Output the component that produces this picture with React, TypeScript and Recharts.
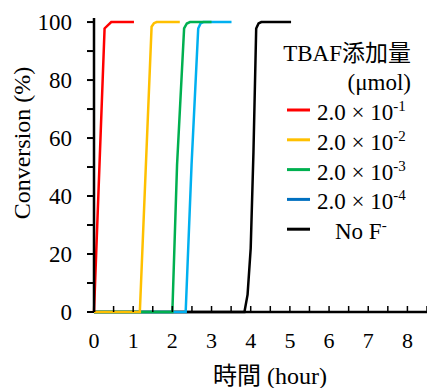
import { LineChart, Line, XAxis, YAxis } from 'recharts';

const FONT = '"Liberation Serif", "Times New Roman", "Noto Sans CJK JP", serif';

// 軸の目盛り
const xTicks = [0, 0.5, 1, 1.5, 2, 2.5, 3, 3.5, 4, 4.5, 5, 5.5, 6, 6.5, 7, 7.5, 8, 8.5];
const yTicks = [0, 10, 20, 30, 40, 50, 60, 70, 80, 90, 100];
const xMax = 8.5;
const yMax = 101.4;

// 各系列 (時間, 転化率)
const redT = [0, 0.27, 0.44, 1.02];
const redV = [0, 97.8, 100, 100];
const yellowT = [0, 1.17, 1.47, 1.53, 1.6, 2.19];
const yellowV = [0, 0, 98.4, 99.6, 100, 100];
const greenT = [0, 2.0, 2.12, 2.3, 2.37, 2.45, 3.0];
const greenV = [0, 0, 50.7, 97.8, 99.5, 100, 100];
const blueT = [0, 2.34, 2.49, 2.66, 2.72, 2.79, 3.51];
const blueV = [0, 0, 50.7, 97.8, 99.5, 100, 100];
const blackT = [0, 3.84, 3.92, 4.0, 4.07, 4.14, 4.2, 4.27, 5.03];
const blackV = [0, 0, 6, 22, 55, 97.8, 99.5, 100, 100];

// 凡例
const legendBase = ['2.0 × 10', '2.0 × 10', '2.0 × 10', '2.0 × 10', 'No F'];
const legendSup = ['-1', '-2', '-3', '-4', '-'];
const legendColors = ['#FF0000', '#FFC000', '#00B050', '#0070C0', '#000000'];

const toRows = (t: number[], v: number[]) => t.map((x, i) => ({ t: x, v: v[i] }));

// x軸の線 (系列の下に描くため Line で描く)
const baseline = [
  { t: 0, v: 0 },
  { t: xMax, v: 0 },
];

// 描画順: 黒 → 青 → 緑 → 黄 → 赤
const series = [
  { key: 'black', data: toRows(blackT, blackV), color: '#000000' },
  { key: 'blue', data: toRows(blueT, blueV), color: '#00B0F0' },
  { key: 'green', data: toRows(greenT, greenV), color: '#00B050' },
  { key: 'yellow', data: toRows(yellowT, yellowV), color: '#FFC000' },
  { key: 'red', data: toRows(redT, redV), color: '#FF0000' },
];

const XTick = (props: any) => {
  const { x, y, payload } = props;
  const v = payload.value;
  return (
    <g>
      {v > 0 && <line x1={x} x2={x} y1={y} y2={y - 6} stroke="#000" strokeWidth={1.5} />}
      {Number.isInteger(v) && (
        <text x={x} y={y + 36} textAnchor="middle" fontSize={22} fontFamily={FONT} fill="#000">
          {v}
        </text>
      )}
    </g>
  );
};

export default function App() {
  return (
    <div style={{ position: 'absolute', left: 0, top: 0, width: 427, height: 388, overflow: 'hidden', background: '#fff' }}>
      <LineChart width={427} height={388} margin={{ top: 18, right: 0, left: 0, bottom: 0 }}>
        <XAxis
          xAxisId="top"
          orientation="top"
          type="number"
          domain={[0, xMax]}
          height={0}
          tick={false}
          tickLine={false}
          axisLine={{ stroke: '#000', strokeWidth: 2.5 }}
        />
        <XAxis
          dataKey="t"
          type="number"
          domain={[0, xMax]}
          ticks={xTicks}
          interval={0}
          height={76}
          tickSize={0}
          tickMargin={0}
          tickLine={false}
          tick={<XTick />}
          axisLine={false}
        />
        <YAxis
          type="number"
          domain={[0, yMax]}
          ticks={yTicks}
          interval={0}
          width={94}
          tickSize={7}
          tickMargin={15}
          tickFormatter={(v: number) => (v % 20 === 0 ? String(v) : '')}
          tick={{ fill: '#000', fontSize: 23, fontFamily: FONT }}
          tickLine={{ stroke: '#000', strokeWidth: 2 }}
          axisLine={{ stroke: '#000', strokeWidth: 2.5 }}
        />
        <Line
          data={baseline}
          dataKey="v"
          type="linear"
          stroke="#000"
          strokeWidth={2.5}
          dot={false}
          activeDot={false}
          isAnimationActive={false}
        />
        {series.map((s) => (
          <Line
            key={s.key}
            data={s.data}
            dataKey="v"
            type="linear"
            stroke={s.color}
            strokeWidth={2.5}
            dot={false}
            activeDot={false}
            isAnimationActive={false}
          />
        ))}
      </LineChart>
      <svg width={427} height={388} style={{ position: 'absolute', left: 0, top: 0, pointerEvents: 'none' }}>
        <text
          x={22}
          y={143}
          transform="rotate(-90 22 143)"
          textAnchor="middle"
          dominantBaseline="central"
          fontSize={24}
          fontFamily={FONT}
          fill="#000"
        >
          Conversion (%)
        </text>
        <text x={270} y={384} textAnchor="middle" fontSize={24} fontFamily={FONT} fill="#000">
          時間 (hour)
        </text>
        <text x={411} y={61} textAnchor="end" fontSize={23} fontFamily={FONT} fill="#000">
          TBAF添加量
        </text>
        <text x={411} y={90} textAnchor="end" fontSize={23} fontFamily={FONT} fill="#000">
          (μmol)
        </text>
        {legendBase.map((label, i) => {
          const cy = 110 + i * 29.8;
          const last = i === legendBase.length - 1;
          return (
            <g key={i}>
              <line x1={287} x2={310} y1={cy} y2={cy} stroke={legendColors[i]} strokeWidth={3} />
              <text x={last ? 335 : 317} y={cy + 10} fontSize={23} fontFamily={FONT} fill="#000">
                {label}
                <tspan dy={-9} fontSize={15}>
                  {legendSup[i]}
                </tspan>
              </text>
            </g>
          );
        })}
      </svg>
    </div>
  );
}
